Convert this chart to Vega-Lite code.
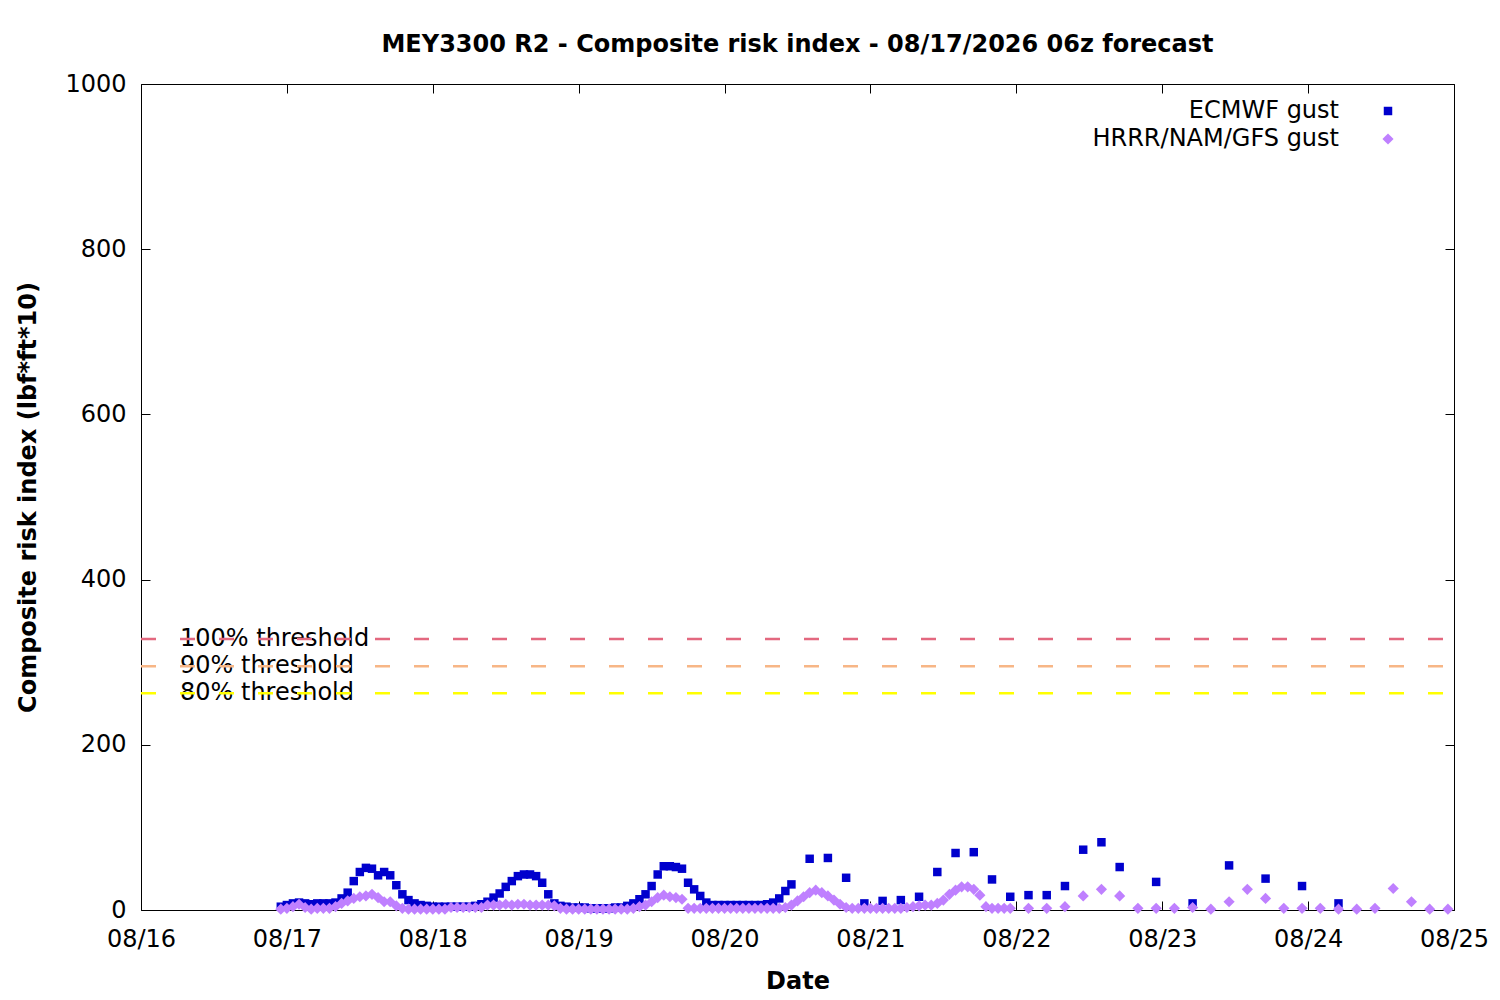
{
"$schema":"https://vega.github.io/schema/vega-lite/v6.json",
"width":1313,"height":826,
"autosize":{"type":"none"},
"padding":{"left":141,"top":84,"right":46,"bottom":90},
"background":"white",
"title":{"text":"MEY3300 R2 - Composite risk index - 08/17/2026 06z forecast","font":"DejaVu Sans","fontSize":24,"fontWeight":"bold","color":"black","anchor":"middle","frame":"group","offset":15},
"config":{
 "font":"DejaVu Sans",
 "view":{"stroke":"black","strokeWidth":1},
 "axis":{"grid":false,"domain":false,"tickColor":"black","tickWidth":1,"tickSize":-9,"labelFont":"DejaVu Sans","labelFontSize":24,"labelColor":"black","titleFont":"DejaVu Sans","titleFontSize":24,"titleFontWeight":"bold","titleColor":"black"},
 "legend":{"orient":"none","legendX":1235,"legendY":15,"title":null,"padding":0,"rowPadding":4,"labelAlign":"right","labelOffset":-61,"labelLimit":500,"labelFont":"DejaVu Sans","labelFontSize":24,"labelColor":"black","symbolOpacity":1}
},
"datasets":{
"thr":[{"label":"100% threshold","v":328},{"label":"90% threshold","v":295.2},{"label":"80% threshold","v":262.4}],
"series":[
{"t":"2026-08-16T23:00","m":"ECMWF gust","v":4},
{"t":"2026-08-17T00:00","m":"ECMWF gust","v":6},
{"t":"2026-08-17T01:00","m":"ECMWF gust","v":8},
{"t":"2026-08-17T02:00","m":"ECMWF gust","v":9},
{"t":"2026-08-17T03:00","m":"ECMWF gust","v":8},
{"t":"2026-08-17T04:00","m":"ECMWF gust","v":7},
{"t":"2026-08-17T05:00","m":"ECMWF gust","v":8},
{"t":"2026-08-17T06:00","m":"ECMWF gust","v":8},
{"t":"2026-08-17T07:00","m":"ECMWF gust","v":8},
{"t":"2026-08-17T08:00","m":"ECMWF gust","v":9},
{"t":"2026-08-17T09:00","m":"ECMWF gust","v":14},
{"t":"2026-08-17T10:00","m":"ECMWF gust","v":21},
{"t":"2026-08-17T11:00","m":"ECMWF gust","v":35},
{"t":"2026-08-17T12:00","m":"ECMWF gust","v":46},
{"t":"2026-08-17T13:00","m":"ECMWF gust","v":51},
{"t":"2026-08-17T14:00","m":"ECMWF gust","v":50},
{"t":"2026-08-17T15:00","m":"ECMWF gust","v":42},
{"t":"2026-08-17T16:00","m":"ECMWF gust","v":46},
{"t":"2026-08-17T17:00","m":"ECMWF gust","v":42},
{"t":"2026-08-17T18:00","m":"ECMWF gust","v":30},
{"t":"2026-08-17T19:00","m":"ECMWF gust","v":19},
{"t":"2026-08-17T20:00","m":"ECMWF gust","v":12},
{"t":"2026-08-17T21:00","m":"ECMWF gust","v":8},
{"t":"2026-08-17T22:00","m":"ECMWF gust","v":6},
{"t":"2026-08-17T23:00","m":"ECMWF gust","v":5},
{"t":"2026-08-18T00:00","m":"ECMWF gust","v":4},
{"t":"2026-08-18T01:00","m":"ECMWF gust","v":4},
{"t":"2026-08-18T02:00","m":"ECMWF gust","v":4},
{"t":"2026-08-18T03:00","m":"ECMWF gust","v":4},
{"t":"2026-08-18T04:00","m":"ECMWF gust","v":4},
{"t":"2026-08-18T05:00","m":"ECMWF gust","v":4},
{"t":"2026-08-18T06:00","m":"ECMWF gust","v":4},
{"t":"2026-08-18T07:00","m":"ECMWF gust","v":5},
{"t":"2026-08-18T08:00","m":"ECMWF gust","v":7},
{"t":"2026-08-18T09:00","m":"ECMWF gust","v":10},
{"t":"2026-08-18T10:00","m":"ECMWF gust","v":15},
{"t":"2026-08-18T11:00","m":"ECMWF gust","v":20},
{"t":"2026-08-18T12:00","m":"ECMWF gust","v":28},
{"t":"2026-08-18T13:00","m":"ECMWF gust","v":35},
{"t":"2026-08-18T14:00","m":"ECMWF gust","v":41},
{"t":"2026-08-18T15:00","m":"ECMWF gust","v":43},
{"t":"2026-08-18T16:00","m":"ECMWF gust","v":43},
{"t":"2026-08-18T17:00","m":"ECMWF gust","v":41},
{"t":"2026-08-18T18:00","m":"ECMWF gust","v":33},
{"t":"2026-08-18T19:00","m":"ECMWF gust","v":19},
{"t":"2026-08-18T20:00","m":"ECMWF gust","v":8},
{"t":"2026-08-18T21:00","m":"ECMWF gust","v":5},
{"t":"2026-08-18T22:00","m":"ECMWF gust","v":4},
{"t":"2026-08-18T23:00","m":"ECMWF gust","v":3},
{"t":"2026-08-19T00:00","m":"ECMWF gust","v":3},
{"t":"2026-08-19T01:00","m":"ECMWF gust","v":3},
{"t":"2026-08-19T02:00","m":"ECMWF gust","v":2},
{"t":"2026-08-19T03:00","m":"ECMWF gust","v":2},
{"t":"2026-08-19T04:00","m":"ECMWF gust","v":2},
{"t":"2026-08-19T05:00","m":"ECMWF gust","v":2},
{"t":"2026-08-19T06:00","m":"ECMWF gust","v":3},
{"t":"2026-08-19T07:00","m":"ECMWF gust","v":3},
{"t":"2026-08-19T08:00","m":"ECMWF gust","v":5},
{"t":"2026-08-19T09:00","m":"ECMWF gust","v":8},
{"t":"2026-08-19T10:00","m":"ECMWF gust","v":13},
{"t":"2026-08-19T11:00","m":"ECMWF gust","v":19},
{"t":"2026-08-19T12:00","m":"ECMWF gust","v":29},
{"t":"2026-08-19T13:00","m":"ECMWF gust","v":43},
{"t":"2026-08-19T14:00","m":"ECMWF gust","v":53},
{"t":"2026-08-19T15:00","m":"ECMWF gust","v":53},
{"t":"2026-08-19T16:00","m":"ECMWF gust","v":52},
{"t":"2026-08-19T17:00","m":"ECMWF gust","v":50},
{"t":"2026-08-19T18:00","m":"ECMWF gust","v":33},
{"t":"2026-08-19T19:00","m":"ECMWF gust","v":25},
{"t":"2026-08-19T20:00","m":"ECMWF gust","v":17},
{"t":"2026-08-19T21:00","m":"ECMWF gust","v":9},
{"t":"2026-08-19T22:00","m":"ECMWF gust","v":6},
{"t":"2026-08-19T23:00","m":"ECMWF gust","v":6},
{"t":"2026-08-20T00:00","m":"ECMWF gust","v":6},
{"t":"2026-08-20T01:00","m":"ECMWF gust","v":6},
{"t":"2026-08-20T02:00","m":"ECMWF gust","v":6},
{"t":"2026-08-20T03:00","m":"ECMWF gust","v":6},
{"t":"2026-08-20T04:00","m":"ECMWF gust","v":6},
{"t":"2026-08-20T05:00","m":"ECMWF gust","v":6},
{"t":"2026-08-20T06:00","m":"ECMWF gust","v":6},
{"t":"2026-08-20T07:00","m":"ECMWF gust","v":7},
{"t":"2026-08-20T08:00","m":"ECMWF gust","v":9},
{"t":"2026-08-20T09:00","m":"ECMWF gust","v":14},
{"t":"2026-08-20T10:00","m":"ECMWF gust","v":23},
{"t":"2026-08-20T11:00","m":"ECMWF gust","v":31},
{"t":"2026-08-20T14:00","m":"ECMWF gust","v":62},
{"t":"2026-08-20T17:00","m":"ECMWF gust","v":63},
{"t":"2026-08-20T20:00","m":"ECMWF gust","v":39},
{"t":"2026-08-20T23:00","m":"ECMWF gust","v":8},
{"t":"2026-08-21T02:00","m":"ECMWF gust","v":11},
{"t":"2026-08-21T05:00","m":"ECMWF gust","v":12},
{"t":"2026-08-21T08:00","m":"ECMWF gust","v":16},
{"t":"2026-08-21T11:00","m":"ECMWF gust","v":46},
{"t":"2026-08-21T14:00","m":"ECMWF gust","v":69},
{"t":"2026-08-21T17:00","m":"ECMWF gust","v":70},
{"t":"2026-08-21T20:00","m":"ECMWF gust","v":37},
{"t":"2026-08-21T23:00","m":"ECMWF gust","v":16},
{"t":"2026-08-22T02:00","m":"ECMWF gust","v":18},
{"t":"2026-08-22T05:00","m":"ECMWF gust","v":18},
{"t":"2026-08-22T08:00","m":"ECMWF gust","v":29},
{"t":"2026-08-22T11:00","m":"ECMWF gust","v":73},
{"t":"2026-08-22T14:00","m":"ECMWF gust","v":82},
{"t":"2026-08-22T17:00","m":"ECMWF gust","v":52},
{"t":"2026-08-22T23:00","m":"ECMWF gust","v":34},
{"t":"2026-08-23T05:00","m":"ECMWF gust","v":8},
{"t":"2026-08-23T11:00","m":"ECMWF gust","v":54},
{"t":"2026-08-23T17:00","m":"ECMWF gust","v":38},
{"t":"2026-08-23T23:00","m":"ECMWF gust","v":29},
{"t":"2026-08-24T05:00","m":"ECMWF gust","v":8},
{"t":"2026-08-16T23:00","m":"HRRR/NAM/GFS gust","v":1},
{"t":"2026-08-17T00:00","m":"HRRR/NAM/GFS gust","v":2},
{"t":"2026-08-17T01:00","m":"HRRR/NAM/GFS gust","v":4},
{"t":"2026-08-17T02:00","m":"HRRR/NAM/GFS gust","v":7},
{"t":"2026-08-17T03:00","m":"HRRR/NAM/GFS gust","v":3},
{"t":"2026-08-17T04:00","m":"HRRR/NAM/GFS gust","v":1},
{"t":"2026-08-17T05:00","m":"HRRR/NAM/GFS gust","v":2},
{"t":"2026-08-17T06:00","m":"HRRR/NAM/GFS gust","v":2},
{"t":"2026-08-17T07:00","m":"HRRR/NAM/GFS gust","v":2},
{"t":"2026-08-17T08:00","m":"HRRR/NAM/GFS gust","v":4},
{"t":"2026-08-17T09:00","m":"HRRR/NAM/GFS gust","v":8},
{"t":"2026-08-17T10:00","m":"HRRR/NAM/GFS gust","v":11},
{"t":"2026-08-17T11:00","m":"HRRR/NAM/GFS gust","v":14},
{"t":"2026-08-17T12:00","m":"HRRR/NAM/GFS gust","v":16},
{"t":"2026-08-17T13:00","m":"HRRR/NAM/GFS gust","v":17},
{"t":"2026-08-17T14:00","m":"HRRR/NAM/GFS gust","v":19},
{"t":"2026-08-17T15:00","m":"HRRR/NAM/GFS gust","v":15},
{"t":"2026-08-17T16:00","m":"HRRR/NAM/GFS gust","v":10},
{"t":"2026-08-17T17:00","m":"HRRR/NAM/GFS gust","v":10},
{"t":"2026-08-17T18:00","m":"HRRR/NAM/GFS gust","v":5},
{"t":"2026-08-17T19:00","m":"HRRR/NAM/GFS gust","v":2},
{"t":"2026-08-17T20:00","m":"HRRR/NAM/GFS gust","v":1},
{"t":"2026-08-17T21:00","m":"HRRR/NAM/GFS gust","v":1},
{"t":"2026-08-17T22:00","m":"HRRR/NAM/GFS gust","v":1},
{"t":"2026-08-17T23:00","m":"HRRR/NAM/GFS gust","v":1},
{"t":"2026-08-18T00:00","m":"HRRR/NAM/GFS gust","v":1},
{"t":"2026-08-18T01:00","m":"HRRR/NAM/GFS gust","v":1},
{"t":"2026-08-18T02:00","m":"HRRR/NAM/GFS gust","v":1},
{"t":"2026-08-18T03:00","m":"HRRR/NAM/GFS gust","v":3},
{"t":"2026-08-18T04:00","m":"HRRR/NAM/GFS gust","v":3},
{"t":"2026-08-18T05:00","m":"HRRR/NAM/GFS gust","v":3},
{"t":"2026-08-18T06:00","m":"HRRR/NAM/GFS gust","v":3},
{"t":"2026-08-18T07:00","m":"HRRR/NAM/GFS gust","v":3},
{"t":"2026-08-18T08:00","m":"HRRR/NAM/GFS gust","v":3},
{"t":"2026-08-18T09:00","m":"HRRR/NAM/GFS gust","v":6},
{"t":"2026-08-18T10:00","m":"HRRR/NAM/GFS gust","v":6},
{"t":"2026-08-18T11:00","m":"HRRR/NAM/GFS gust","v":6},
{"t":"2026-08-18T12:00","m":"HRRR/NAM/GFS gust","v":7},
{"t":"2026-08-18T13:00","m":"HRRR/NAM/GFS gust","v":6},
{"t":"2026-08-18T14:00","m":"HRRR/NAM/GFS gust","v":7},
{"t":"2026-08-18T15:00","m":"HRRR/NAM/GFS gust","v":7},
{"t":"2026-08-18T16:00","m":"HRRR/NAM/GFS gust","v":6},
{"t":"2026-08-18T17:00","m":"HRRR/NAM/GFS gust","v":6},
{"t":"2026-08-18T18:00","m":"HRRR/NAM/GFS gust","v":6},
{"t":"2026-08-18T19:00","m":"HRRR/NAM/GFS gust","v":6},
{"t":"2026-08-18T20:00","m":"HRRR/NAM/GFS gust","v":5},
{"t":"2026-08-18T21:00","m":"HRRR/NAM/GFS gust","v":2},
{"t":"2026-08-18T22:00","m":"HRRR/NAM/GFS gust","v":1},
{"t":"2026-08-18T23:00","m":"HRRR/NAM/GFS gust","v":1},
{"t":"2026-08-19T00:00","m":"HRRR/NAM/GFS gust","v":1},
{"t":"2026-08-19T01:00","m":"HRRR/NAM/GFS gust","v":1},
{"t":"2026-08-19T02:00","m":"HRRR/NAM/GFS gust","v":1},
{"t":"2026-08-19T03:00","m":"HRRR/NAM/GFS gust","v":1},
{"t":"2026-08-19T04:00","m":"HRRR/NAM/GFS gust","v":1},
{"t":"2026-08-19T05:00","m":"HRRR/NAM/GFS gust","v":1},
{"t":"2026-08-19T06:00","m":"HRRR/NAM/GFS gust","v":1},
{"t":"2026-08-19T07:00","m":"HRRR/NAM/GFS gust","v":1},
{"t":"2026-08-19T08:00","m":"HRRR/NAM/GFS gust","v":1},
{"t":"2026-08-19T09:00","m":"HRRR/NAM/GFS gust","v":2},
{"t":"2026-08-19T10:00","m":"HRRR/NAM/GFS gust","v":4},
{"t":"2026-08-19T11:00","m":"HRRR/NAM/GFS gust","v":6},
{"t":"2026-08-19T12:00","m":"HRRR/NAM/GFS gust","v":10},
{"t":"2026-08-19T13:00","m":"HRRR/NAM/GFS gust","v":15},
{"t":"2026-08-19T14:00","m":"HRRR/NAM/GFS gust","v":18},
{"t":"2026-08-19T15:00","m":"HRRR/NAM/GFS gust","v":16},
{"t":"2026-08-19T16:00","m":"HRRR/NAM/GFS gust","v":15},
{"t":"2026-08-19T17:00","m":"HRRR/NAM/GFS gust","v":13},
{"t":"2026-08-19T18:00","m":"HRRR/NAM/GFS gust","v":2},
{"t":"2026-08-19T19:00","m":"HRRR/NAM/GFS gust","v":2},
{"t":"2026-08-19T20:00","m":"HRRR/NAM/GFS gust","v":2},
{"t":"2026-08-19T21:00","m":"HRRR/NAM/GFS gust","v":2},
{"t":"2026-08-19T22:00","m":"HRRR/NAM/GFS gust","v":2},
{"t":"2026-08-19T23:00","m":"HRRR/NAM/GFS gust","v":2},
{"t":"2026-08-20T00:00","m":"HRRR/NAM/GFS gust","v":2},
{"t":"2026-08-20T01:00","m":"HRRR/NAM/GFS gust","v":2},
{"t":"2026-08-20T02:00","m":"HRRR/NAM/GFS gust","v":2},
{"t":"2026-08-20T03:00","m":"HRRR/NAM/GFS gust","v":2},
{"t":"2026-08-20T04:00","m":"HRRR/NAM/GFS gust","v":2},
{"t":"2026-08-20T05:00","m":"HRRR/NAM/GFS gust","v":2},
{"t":"2026-08-20T06:00","m":"HRRR/NAM/GFS gust","v":2},
{"t":"2026-08-20T07:00","m":"HRRR/NAM/GFS gust","v":2},
{"t":"2026-08-20T08:00","m":"HRRR/NAM/GFS gust","v":2},
{"t":"2026-08-20T09:00","m":"HRRR/NAM/GFS gust","v":2},
{"t":"2026-08-20T10:00","m":"HRRR/NAM/GFS gust","v":3},
{"t":"2026-08-20T11:00","m":"HRRR/NAM/GFS gust","v":6},
{"t":"2026-08-20T12:00","m":"HRRR/NAM/GFS gust","v":11},
{"t":"2026-08-20T13:00","m":"HRRR/NAM/GFS gust","v":16},
{"t":"2026-08-20T14:00","m":"HRRR/NAM/GFS gust","v":21},
{"t":"2026-08-20T15:00","m":"HRRR/NAM/GFS gust","v":24},
{"t":"2026-08-20T16:00","m":"HRRR/NAM/GFS gust","v":21},
{"t":"2026-08-20T17:00","m":"HRRR/NAM/GFS gust","v":17},
{"t":"2026-08-20T18:00","m":"HRRR/NAM/GFS gust","v":12},
{"t":"2026-08-20T19:00","m":"HRRR/NAM/GFS gust","v":7},
{"t":"2026-08-20T20:00","m":"HRRR/NAM/GFS gust","v":3},
{"t":"2026-08-20T21:00","m":"HRRR/NAM/GFS gust","v":2},
{"t":"2026-08-20T22:00","m":"HRRR/NAM/GFS gust","v":2},
{"t":"2026-08-20T23:00","m":"HRRR/NAM/GFS gust","v":2},
{"t":"2026-08-21T00:00","m":"HRRR/NAM/GFS gust","v":2},
{"t":"2026-08-21T01:00","m":"HRRR/NAM/GFS gust","v":2},
{"t":"2026-08-21T02:00","m":"HRRR/NAM/GFS gust","v":2},
{"t":"2026-08-21T03:00","m":"HRRR/NAM/GFS gust","v":2},
{"t":"2026-08-21T04:00","m":"HRRR/NAM/GFS gust","v":2},
{"t":"2026-08-21T05:00","m":"HRRR/NAM/GFS gust","v":2},
{"t":"2026-08-21T06:00","m":"HRRR/NAM/GFS gust","v":3},
{"t":"2026-08-21T07:00","m":"HRRR/NAM/GFS gust","v":4},
{"t":"2026-08-21T08:00","m":"HRRR/NAM/GFS gust","v":5},
{"t":"2026-08-21T09:00","m":"HRRR/NAM/GFS gust","v":6},
{"t":"2026-08-21T10:00","m":"HRRR/NAM/GFS gust","v":6},
{"t":"2026-08-21T11:00","m":"HRRR/NAM/GFS gust","v":8},
{"t":"2026-08-21T12:00","m":"HRRR/NAM/GFS gust","v":12},
{"t":"2026-08-21T13:00","m":"HRRR/NAM/GFS gust","v":19},
{"t":"2026-08-21T14:00","m":"HRRR/NAM/GFS gust","v":24},
{"t":"2026-08-21T15:00","m":"HRRR/NAM/GFS gust","v":28},
{"t":"2026-08-21T16:00","m":"HRRR/NAM/GFS gust","v":28},
{"t":"2026-08-21T17:00","m":"HRRR/NAM/GFS gust","v":25},
{"t":"2026-08-21T18:00","m":"HRRR/NAM/GFS gust","v":18},
{"t":"2026-08-21T19:00","m":"HRRR/NAM/GFS gust","v":4},
{"t":"2026-08-21T20:00","m":"HRRR/NAM/GFS gust","v":2},
{"t":"2026-08-21T21:00","m":"HRRR/NAM/GFS gust","v":2},
{"t":"2026-08-21T22:00","m":"HRRR/NAM/GFS gust","v":2},
{"t":"2026-08-21T23:00","m":"HRRR/NAM/GFS gust","v":2},
{"t":"2026-08-22T02:00","m":"HRRR/NAM/GFS gust","v":2},
{"t":"2026-08-22T05:00","m":"HRRR/NAM/GFS gust","v":2},
{"t":"2026-08-22T08:00","m":"HRRR/NAM/GFS gust","v":4},
{"t":"2026-08-22T11:00","m":"HRRR/NAM/GFS gust","v":17},
{"t":"2026-08-22T14:00","m":"HRRR/NAM/GFS gust","v":25},
{"t":"2026-08-22T17:00","m":"HRRR/NAM/GFS gust","v":17},
{"t":"2026-08-22T20:00","m":"HRRR/NAM/GFS gust","v":2},
{"t":"2026-08-22T23:00","m":"HRRR/NAM/GFS gust","v":2},
{"t":"2026-08-23T02:00","m":"HRRR/NAM/GFS gust","v":2},
{"t":"2026-08-23T05:00","m":"HRRR/NAM/GFS gust","v":3},
{"t":"2026-08-23T08:00","m":"HRRR/NAM/GFS gust","v":1},
{"t":"2026-08-23T11:00","m":"HRRR/NAM/GFS gust","v":10},
{"t":"2026-08-23T14:00","m":"HRRR/NAM/GFS gust","v":25},
{"t":"2026-08-23T17:00","m":"HRRR/NAM/GFS gust","v":14},
{"t":"2026-08-23T20:00","m":"HRRR/NAM/GFS gust","v":2},
{"t":"2026-08-23T23:00","m":"HRRR/NAM/GFS gust","v":2},
{"t":"2026-08-24T02:00","m":"HRRR/NAM/GFS gust","v":2},
{"t":"2026-08-24T05:00","m":"HRRR/NAM/GFS gust","v":1},
{"t":"2026-08-24T08:00","m":"HRRR/NAM/GFS gust","v":1},
{"t":"2026-08-24T11:00","m":"HRRR/NAM/GFS gust","v":2},
{"t":"2026-08-24T14:00","m":"HRRR/NAM/GFS gust","v":26},
{"t":"2026-08-24T17:00","m":"HRRR/NAM/GFS gust","v":10},
{"t":"2026-08-24T20:00","m":"HRRR/NAM/GFS gust","v":1},
{"t":"2026-08-24T23:00","m":"HRRR/NAM/GFS gust","v":1}
]},
"layer":[
{
 "data":{"name":"thr"},
 "mark":{"type":"text","align":"left","baseline":"middle","font":"DejaVu Sans","fontSize":24,"color":"black"},
 "encoding":{
  "x":{"datum":{"year":2026,"month":8,"date":16,"hours":6,"minutes":25},"type":"temporal",
   "scale":{"domain":[{"year":2026,"month":8,"date":16},{"year":2026,"month":8,"date":25}],"nice":false},
   "axis":{"orient":"top","labels":false,"title":null,"values":[{"year":2026,"month":8,"date":16},{"year":2026,"month":8,"date":17},{"year":2026,"month":8,"date":18},{"year":2026,"month":8,"date":19},{"year":2026,"month":8,"date":20},{"year":2026,"month":8,"date":21},{"year":2026,"month":8,"date":22},{"year":2026,"month":8,"date":23},{"year":2026,"month":8,"date":24},{"year":2026,"month":8,"date":25}]}},
  "y":{"field":"v","type":"quantitative","scale":{"domain":[0,1000],"nice":false},
   "axis":{"orient":"right","labels":false,"title":null,"values":[0,200,400,600,800,1000]}},
  "text":{"field":"label"}
 }
},
{
 "data":{"name":"thr"},
 "mark":{"type":"rule","strokeWidth":2.5,"strokeDash":[15,24],"strokeDashOffset":28},
 "encoding":{
  "y":{"field":"v","type":"quantitative","axis":null},
  "stroke":{"field":"label","type":"nominal","legend":null,
   "scale":{"domain":["100% threshold","90% threshold","80% threshold"],"range":["#e3687f","#f7b686","#ffff00"]}}
 }
},
{
 "data":{"name":"series"},
 "mark":{"type":"point","filled":true,"opacity":1},
 "encoding":{
  "x":{"field":"t","type":"temporal",
   "axis":{"orient":"bottom","format":"%m/%d","labelFlush":false,"labelOverlap":false,"labelBound":false,"labelPadding":26,"title":"Date","titlePadding":18,
    "values":[{"year":2026,"month":8,"date":16},{"year":2026,"month":8,"date":17},{"year":2026,"month":8,"date":18},{"year":2026,"month":8,"date":19},{"year":2026,"month":8,"date":20},{"year":2026,"month":8,"date":21},{"year":2026,"month":8,"date":22},{"year":2026,"month":8,"date":23},{"year":2026,"month":8,"date":24},{"year":2026,"month":8,"date":25}]}},
  "y":{"field":"v","type":"quantitative",
   "axis":{"orient":"left","format":"d","labelPadding":24,"title":"Composite risk index (lbf*ft*10)","titlePadding":24,"values":[0,200,400,600,800,1000]}},
  "color":{"field":"m","type":"nominal","title":null,"scale":{"domain":["ECMWF gust","HRRR/NAM/GFS gust"],"range":["#0000cd","#bf80ff"]}},
  "shape":{"field":"m","type":"nominal","title":null,"scale":{"domain":["ECMWF gust","HRRR/NAM/GFS gust"],"range":["square","diamond"]}},
  "size":{"field":"m","type":"nominal","title":null,"scale":{"domain":["ECMWF gust","HRRR/NAM/GFS gust"],"range":[72,125]}}
 }
}
]
}
